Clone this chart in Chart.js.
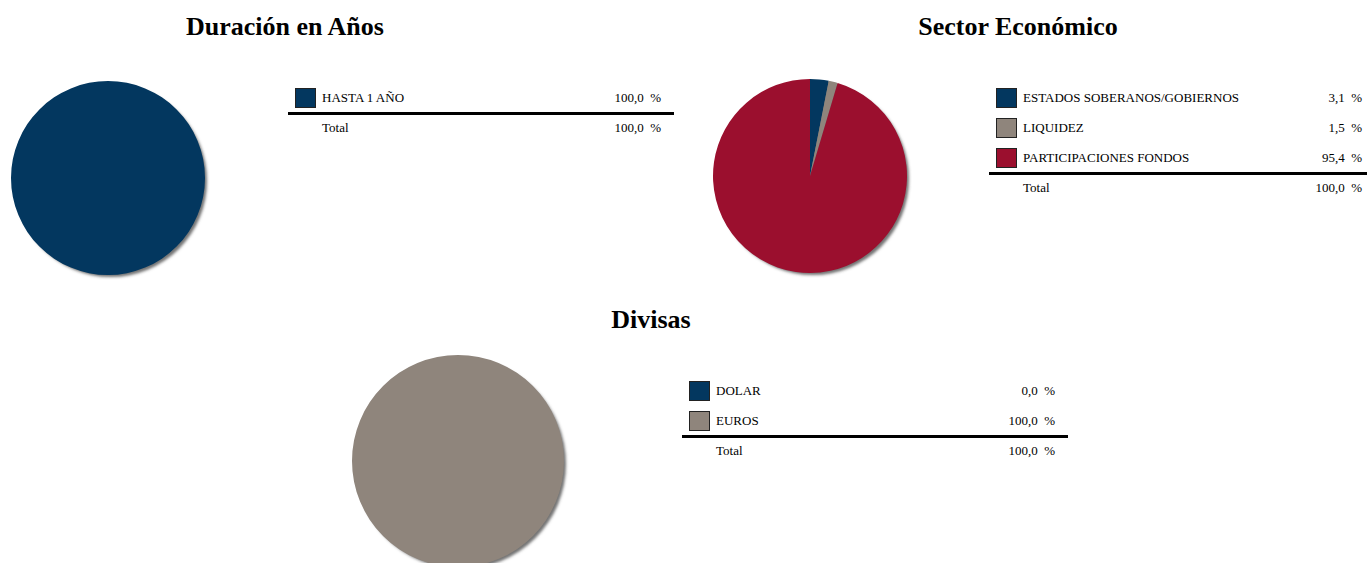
<!DOCTYPE html>
<html>
<head>
<meta charset="utf-8">
<script src="https://cdn.jsdelivr.net/npm/chart.js@4.4.1/dist/chart.umd.min.js"></script>
<style>
  html, body { margin: 0; padding: 0; background: #fff; }
  body { width: 1367px; height: 563px; position: relative; overflow: hidden; font-family: "Liberation Serif", "Times New Roman", serif; color: #000; }
  .title { position: absolute; font-weight: bold; font-size: 26px; text-align: center; width: 400px; line-height: 30px; }
  .pie { position: absolute; }
  .legend { position: absolute; width: 386px; font-size: 13px; }
  .row { position: relative; height: 30px; line-height: 30px; }
  .sw { position: absolute; left: 7px; top: 5px; width: 19px; height: 18px; border: 1.5px solid #222; }
  .lbl { position: absolute; left: 34px; }
  .val { position: absolute; right: 13px; white-space: pre; }
  .rule { height: 3px; background: #000; margin-top: -1.5px; }
  .tot { position: relative; height: 26px; line-height: 26px; }
</style>
</head>
<body>

<div class="title" style="left:85px; top:12px;">Duración en Años</div>
<div class="title" style="left:818px; top:12px;">Sector Económico</div>
<div class="title" style="left:451px; top:305px;">Divisas</div>

<canvas id="pie1" class="pie" width="214" height="214" style="left:1px; top:71px;"></canvas>
<canvas id="pie2" class="pie" width="214" height="214" style="left:703px; top:69px;"></canvas>
<canvas id="pie3" class="pie" width="234" height="234" style="left:341px; top:344px;"></canvas>

<div id="leg1" class="legend" style="left:288px; top:83px;"></div>
<div id="leg2" class="legend" style="left:989px; top:83px;"></div>
<div id="leg3" class="legend" style="left:682px; top:376px;"></div>

<script>
// Duración en Años
var durLabels = ["HASTA 1 AÑO"];
var durValues = [100.0];
var durColors = ["#03375f"];

// Sector Económico
var sectorLabels = ["ESTADOS SOBERANOS/GOBIERNOS", "LIQUIDEZ", "PARTICIPACIONES FONDOS"];
var sectorValues = [3.1, 1.5, 95.4];
var sectorColors = ["#03375f", "#8f857c", "#9b0f2e"];

// Divisas
var divLabels = ["DOLAR", "EUROS"];
var divValues = [0.0, 100.0];
var divColors = ["#03375f", "#8f857c"];

function fmt(v) {
  return v.toFixed(1).replace(".", ",") + "  %";
}

function buildLegend(id, labels, values, colors) {
  var el = document.getElementById(id);
  var html = "";
  var total = 0;
  for (var i = 0; i < labels.length; i++) {
    total += values[i];
    html += '<div class="row"><div class="sw" style="background:' + colors[i] + '"></div>' +
      '<span class="lbl">' + labels[i] + '</span><span class="val">' + fmt(values[i]) + '</span></div>';
  }
  html += '<div class="rule"></div>';
  html += '<div class="tot"><span class="lbl">Total</span><span class="val">' + fmt(total) + '</span></div>';
  el.innerHTML = html;
}

// one drop shadow behind the whole pie, so slices don't shade each other
var shadowPlugin = {
  id: "pieShadow",
  beforeDatasetsDraw: function (chart) {
    var arc = chart.getDatasetMeta(0).data[0];
    if (!arc) return;
    var ctx = chart.ctx;
    ctx.save();
    ctx.shadowColor = "rgba(90,90,90,0.85)";
    ctx.shadowBlur = 3;
    ctx.shadowOffsetX = 3;
    ctx.shadowOffsetY = 3;
    ctx.fillStyle = "#777";
    ctx.beginPath();
    ctx.arc(arc.x, arc.y, arc.outerRadius - 1, 0, Math.PI * 2);
    ctx.fill();
    ctx.restore();
  }
};

function makePie(id, labels, values, colors, radius) {
  var ctx = document.getElementById(id).getContext("2d");
  return new Chart(ctx, {
    type: "pie",
    data: {
      labels: labels,
      datasets: [{
        data: values,
        backgroundColor: colors,
        borderWidth: 0,
        radius: radius
      }]
    },
    options: {
      responsive: false,
      animation: false,
      layout: { padding: 0 },
      plugins: {
        legend: { display: false },
        tooltip: { enabled: false }
      }
    },
    plugins: [shadowPlugin]
  });
}

buildLegend("leg1", durLabels, durValues, durColors);
buildLegend("leg2", sectorLabels, sectorValues, sectorColors);
buildLegend("leg3", divLabels, divValues, divColors);

makePie("pie1", durLabels, durValues, durColors, 97);
makePie("pie2", sectorLabels, sectorValues, sectorColors, 97);
makePie("pie3", divLabels, divValues, divColors, 106);
</script>
</body>
</html>
